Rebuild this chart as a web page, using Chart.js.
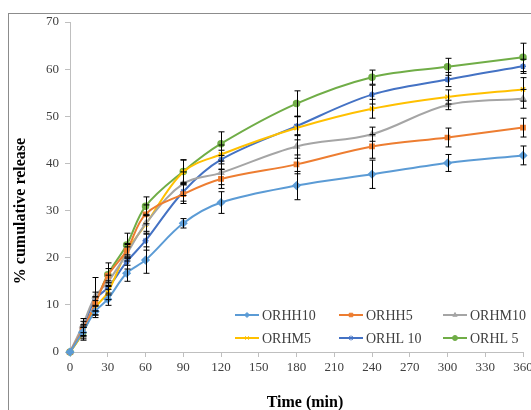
<!DOCTYPE html>
<html>
<head>
<meta charset="utf-8">
<script src="https://cdn.jsdelivr.net/npm/chart.js@4.4.0/dist/chart.umd.min.js"></script>
<style>
  html, body { margin: 0; padding: 0; background: #fff; overflow: hidden; }
  #frame { position: absolute; left: 8px; top: 13px; width: 600px; height: 450px; border: 1px solid #8c8c8c; }
  #wrap { position: absolute; left: 0; top: 0; width: 531px; height: 410px; }
</style>
</head>
<body>
<div id="frame"></div>
<div id="wrap"><canvas id="myChart" width="531" height="410"></canvas></div>
<script>
// time points (min)
const times = [0, 10, 20, 30, 45, 60, 90, 120, 180, 240, 300, 360];

// % cumulative release per formulation
const orhh10 = [0, 4.2, 8.6, 11.2, 16.7, 19.5, 27.3, 31.7, 35.3, 37.7, 40.1, 41.7];
const orhh5  = [0, 4.6, 10.2, 16.2, 21.5, 29.2, 33.5, 36.7, 39.8, 43.6, 45.5, 47.6];
const orhm10 = [0, 5.6, 11.8, 14.8, 20.8, 27.2, 35.7, 38.0, 43.6, 46.2, 52.4, 53.7];
const orhm5  = [0, 4.0, 9.4, 12.6, 21.3, 27.0, 38.2, 41.9, 47.5, 51.6, 54.1, 55.7];
const orhl10 = [0, 5.0, 11.2, 13.6, 19.1, 23.6, 34.0, 40.8, 47.9, 54.6, 57.8, 60.6];
const orhl5  = [0, 4.0, 10.2, 16.4, 22.7, 30.9, 38.3, 44.2, 52.7, 58.3, 60.5, 62.5];

// standard deviations (error bars)
const errHH10 = [0, 1.0, 1.3, 1.3, 1.7, 2.8, 1.0, 2.3, 3.0, 3.0, 1.8, 2.0];
const errHH5  = [0, 1.2, 1.5, 1.5, 1.5, 2.0, 2.0, 2.0, 2.0, 2.5, 2.0, 2.0];
const errHM10 = [0, 1.5, 4.0, 1.5, 1.5, 2.0, 2.5, 2.5, 2.5, 1.5, 1.0, 2.0];
const errHM5  = [0, 1.2, 1.5, 1.5, 1.5, 2.0, 2.5, 2.0, 2.5, 2.0, 1.5, 2.5];
const errHL10 = [0, 1.5, 1.5, 1.5, 1.5, 2.0, 2.0, 2.0, 2.0, 2.0, 1.5, 1.5];
const errHL5  = [0, 1.5, 1.5, 2.5, 2.5, 2.0, 2.5, 2.5, 2.7, 1.5, 1.8, 3.0];

const seriesNames = ["ORHH10", "ORHH5", "ORHM10", "ORHM5", "ORHL 10", "ORHL 5"];
const seriesValues = [orhh10, orhh5, orhm10, orhm5, orhl10, orhl5];
const seriesErrors = [errHH10, errHH5, errHM10, errHM5, errHL10, errHL5];
const seriesColors = ["#5B9BD5", "#ED7D31", "#A5A5A5", "#FFC000", "#4472C4", "#70AD47"];
const seriesMarkers = ["rectRot", "rect", "triangle", "crossRot", "star", "circle"];

const yTitle = "% cumulative release";
const xTitle = "Time (min)";

const serif = "'Liberation Serif', 'Times New Roman', serif";

let datasets = [];
for (let i = 0; i < seriesNames.length; i++) {
    datasets.push({
        label: seriesNames[i],
        data: times.map((t, j) => ({ x: t, y: seriesValues[i][j] })),
        errors: seriesErrors[i],
        borderColor: seriesColors[i],
        backgroundColor: seriesColors[i],
        pointBackgroundColor: seriesColors[i],
        pointBorderColor: seriesColors[i],
        pointStyle: seriesMarkers[i],
        pointRadius: seriesMarkers[i] == "rectRot" ? 3.5 : 3,
        pointBorderWidth: 1.5,
        borderWidth: 2,
        tension: 0.35,
        clip: false
    });
}

// error bars, legend inside the plot and axis titles
const extras = {
    id: "extras",
    afterDatasetsDraw(chart) {
        const ctx = chart.ctx;
        const xs = chart.scales.x, ys = chart.scales.y;
        ctx.save();
        ctx.strokeStyle = "#000";
        ctx.lineWidth = 1;
        chart.data.datasets.forEach(ds => {
            ds.data.forEach((p, j) => {
                const e = ds.errors[j];
                if (!e) return;
                const px = Math.round(xs.getPixelForValue(p.x)) + 0.5;
                const top = ys.getPixelForValue(p.y + e);
                const bot = ys.getPixelForValue(p.y - e);
                ctx.beginPath();
                ctx.moveTo(px, top); ctx.lineTo(px, bot);
                ctx.moveTo(px - 3, top); ctx.lineTo(px + 3, top);
                ctx.moveTo(px - 3, bot); ctx.lineTo(px + 3, bot);
                ctx.stroke();
            });
        });
        ctx.restore();
    },
    afterDraw(chart) {
        const ctx = chart.ctx;
        const ca = chart.chartArea;
        ctx.save();
        // legend
        ctx.font = "14px " + serif;
        ctx.textBaseline = "middle";
        ctx.textAlign = "left";
        chart.data.datasets.forEach((ds, i) => {
            const col = i % 3, row = Math.floor(i / 3);
            const x0 = ca.left + 165 + col * 104;
            const y0 = ca.bottom - 37 + row * 23;
            ctx.strokeStyle = ds.borderColor;
            ctx.lineWidth = 2;
            ctx.beginPath();
            ctx.moveTo(x0, y0); ctx.lineTo(x0 + 24, y0);
            ctx.stroke();
            ctx.fillStyle = ds.backgroundColor;
            ctx.lineWidth = 1;
            Chart.helpers.drawPoint(ctx, { pointStyle: ds.pointStyle, radius: 2.5, rotation: 0, borderWidth: 1 }, x0 + 12, y0);
            ctx.fillStyle = "#404040";
            ctx.fillText(ds.label, x0 + 27, y0 + 1);
        });
        // axis titles
        ctx.fillStyle = "#000";
        ctx.font = "bold 16px " + serif;
        ctx.textAlign = "center";
        ctx.fillText(xTitle, 305, 403);
        ctx.translate(21, 211);
        ctx.rotate(-Math.PI / 2);
        ctx.fillText(yTitle, 0, 0);
        ctx.restore();
    }
};

new Chart("myChart", {
    type: "line",
    data: { datasets: datasets },
    options: {
        responsive: false,
        animation: false,
        layout: { padding: { left: 0, right: 8, top: 22, bottom: 0 } },
        plugins: { legend: { display: false }, tooltip: { enabled: false } },
        scales: {
            x: {
                type: "linear",
                min: 0,
                max: 360,
                ticks: { stepSize: 30, color: "#404040", padding: 3, font: { family: serif, size: 13 } },
                grid: { drawOnChartArea: false, drawTicks: true, tickLength: 5, color: "#bfbfbf" },
                border: { color: "#bfbfbf" },
                afterFit: s => { s.height = 58; s.paddingRight = 0; s.paddingLeft = 0; }
            },
            y: {
                min: 0,
                max: 70,
                ticks: { stepSize: 10, color: "#404040", padding: 6, font: { family: serif, size: 13 } },
                grid: { drawOnChartArea: false, drawTicks: true, tickLength: 5, color: "#bfbfbf" },
                border: { color: "#bfbfbf" },
                afterFit: s => { s.width = 70; }
            }
        }
    },
    plugins: [extras]
});
</script>
</body>
</html>
